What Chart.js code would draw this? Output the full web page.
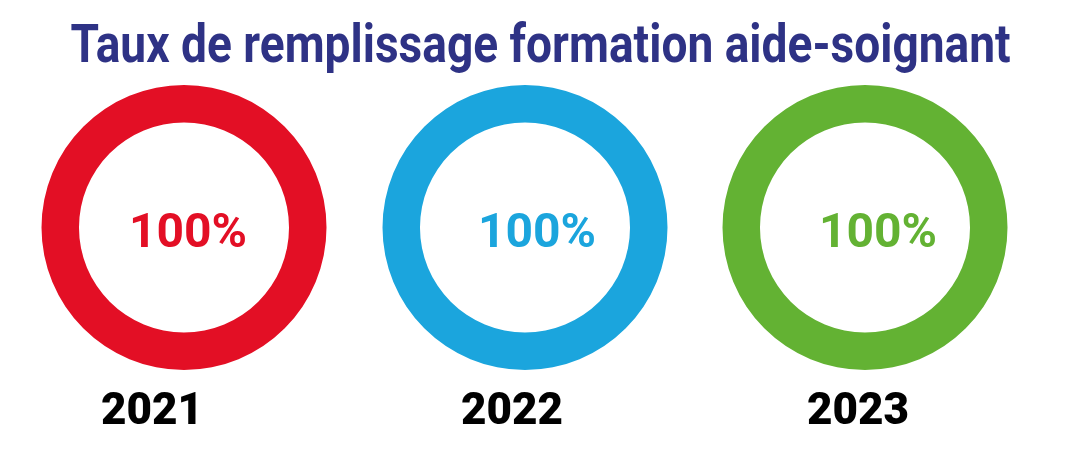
<!DOCTYPE html>
<html>
<head>
<meta charset="utf-8">
<script src="https://cdn.jsdelivr.net/npm/chart.js@4/dist/chart.umd.min.js"></script>
<style>
  html, body { margin: 0; padding: 0; background: #fff; }
  body { width: 1073px; height: 469px; position: relative; overflow: hidden; }
  #title {
    position: absolute; left: 0; top: 18px; width: 1074px;
    text-align: center; white-space: nowrap;
    font-family: Roboto, sans-serif; font-weight: 700; font-size: 53px; line-height: 1;
    color: #2e3285;
  }
  #titleText { display: inline-block; transform-origin: center; }
  .ring { position: absolute; top: 80px; width: 340px; height: 380px; }
</style>
</head>
<body>
<div id="title"><span id="titleText">Taux de remplissage formation aide-soignant</span></div>
<div class="ring" style="left:14px"><canvas id="ring0" width="340" height="380"></canvas></div>
<div class="ring" style="left:355px"><canvas id="ring1" width="340" height="380"></canvas></div>
<div class="ring" style="left:695px"><canvas id="ring2" width="340" height="380"></canvas></div>
<script>
  const years = ['2021', '2022', '2023'];
  const rates = [100, 100, 100];
  const ringColors = ['#e30f25', '#1ba5dd', '#63b233'];

  // the infographic is hand placed: labels are not exactly under the rings
  const pctShift = [4, 12, 13];
  const yearShift = [-32, -13, -7];

  // squeeze the title to the width of the original
  const titleText = document.getElementById('titleText');
  const fitTitle = () => {
    const w = titleText.offsetWidth;
    titleText.style.transform = 'scaleX(' + (940 / w) + ')';
  };
  fitTitle();
  if (document.fonts) document.fonts.ready.then(fitTitle);

  const ringLabels = {
    id: 'ringLabels',
    afterDraw: (chart) => {
      const {ctx} = chart;
      const arc = chart.getDatasetMeta(0).data[0];
      const opts = chart.options.plugins.ringLabels;
      ctx.save();
      ctx.textAlign = 'center';
      ctx.textBaseline = 'alphabetic';
      ctx.font = '700 48px Roboto';
      ctx.fillStyle = opts.color;
      ctx.fillText(opts.value, arc.x + opts.dxValue, arc.y + 19);
      ctx.font = '900 44px Roboto';
      ctx.fillStyle = '#000000';
      ctx.fillText(opts.year, arc.x + opts.dxYear, arc.y + 196);
      ctx.restore();
    }
  };

  years.forEach((year, i) => {
    new Chart(document.getElementById('ring' + i), {
      type: 'doughnut',
      data: {
        labels: [year, ''],
        datasets: [{
          data: [rates[i], 100 - rates[i]],
          backgroundColor: [ringColors[i], '#ffffff'],
          borderWidth: 0
        }]
      },
      plugins: [ringLabels],
      options: {
        responsive: false,
        animation: false,
        cutout: '73.7%',
        layout: { padding: { top: 5, bottom: 90, left: 0, right: 0 } },
        plugins: {
          legend: { display: false },
          tooltip: { enabled: false },
          ringLabels: {
            value: rates[i] + '%',
            year: year,
            color: ringColors[i],
            dxValue: pctShift[i],
            dxYear: yearShift[i]
          }
        }
      }
    });
  });
</script>
</body>
</html>
